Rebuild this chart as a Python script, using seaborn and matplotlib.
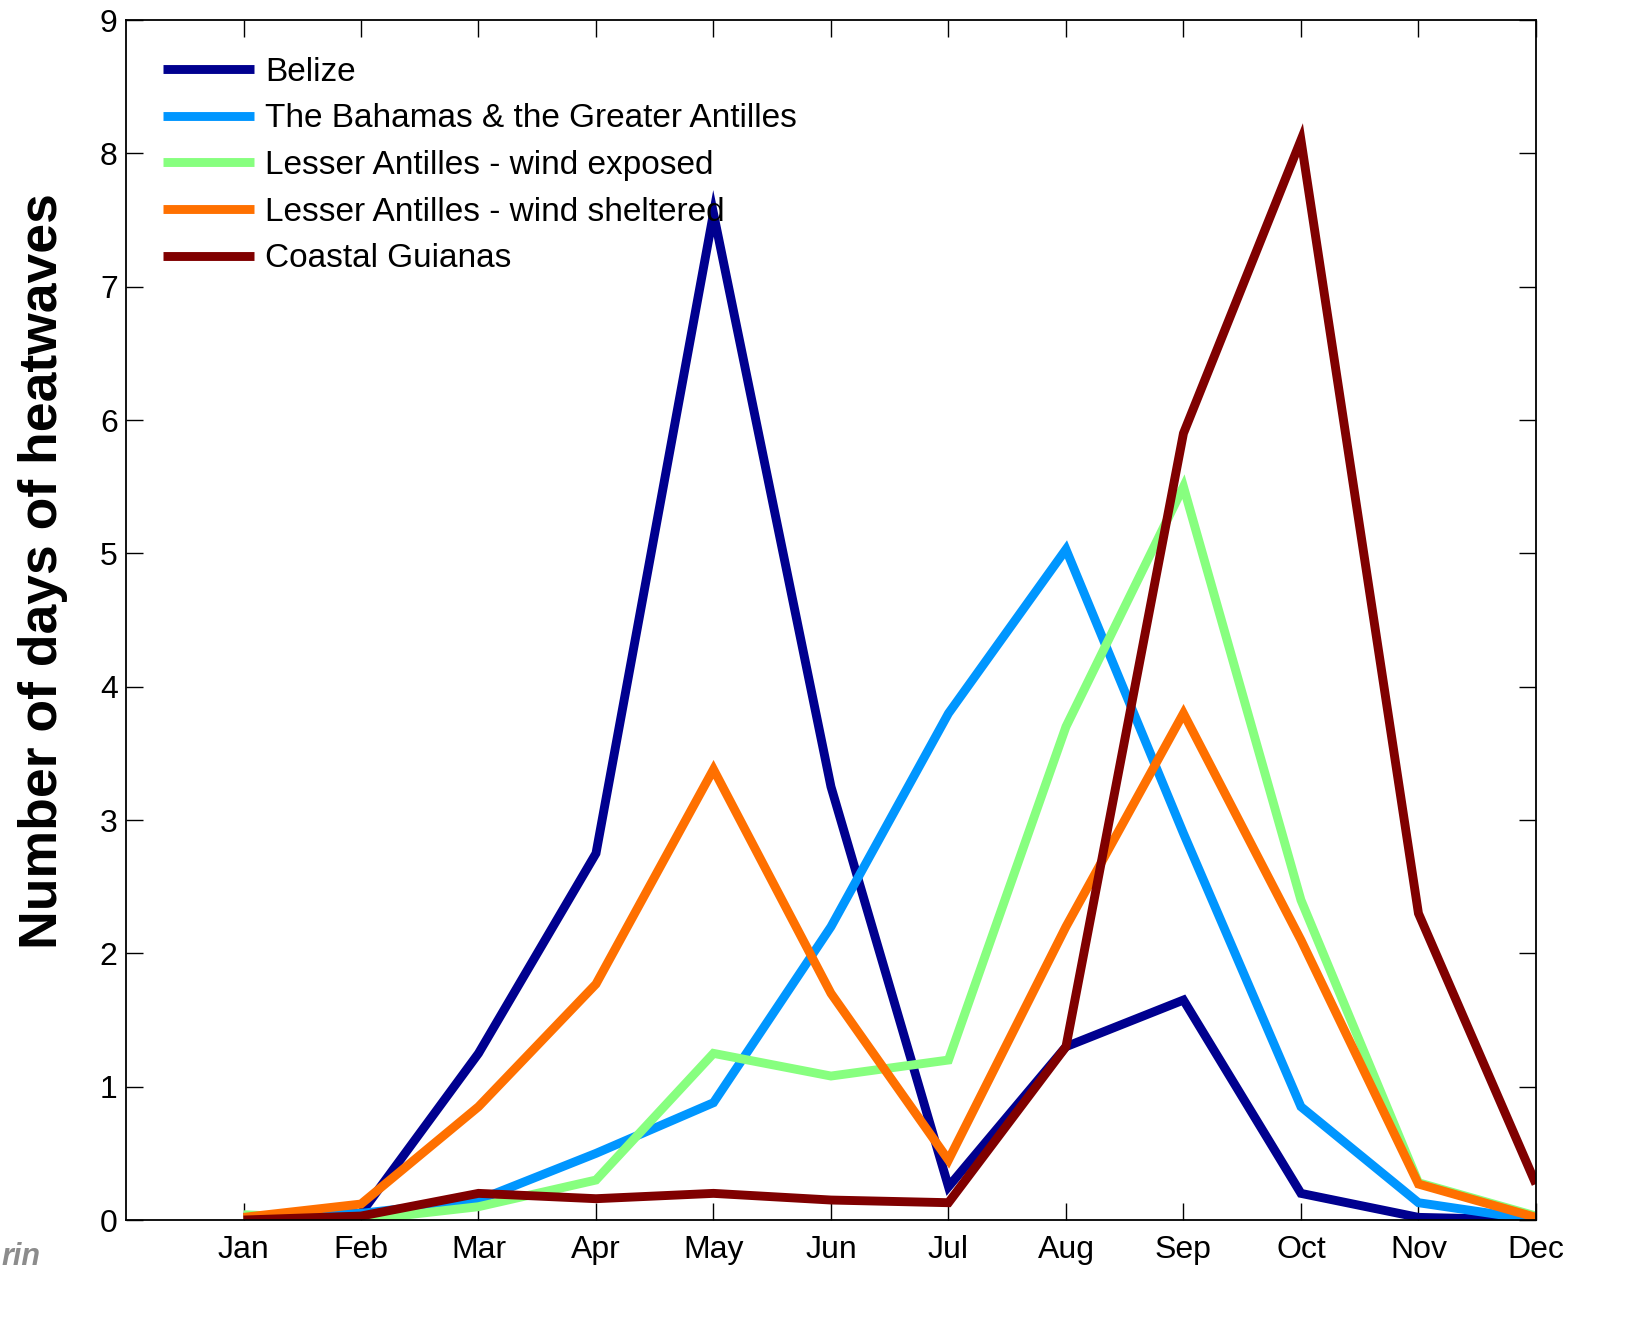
import pandas as pd
import matplotlib
matplotlib.use("Agg")
import matplotlib.pyplot as plt
import seaborn as sns

# Monthly values
months = ["Jan", "Feb", "Mar", "Apr", "May", "Jun", "Jul", "Aug", "Sep", "Oct", "Nov", "Dec"]
belize = [0.02, 0.05, 1.25, 2.75, 7.55, 3.25, 0.25, 1.3, 1.65, 0.2, 0.02, 0.0]
bahamas = [0.02, 0.05, 0.15, 0.5, 0.88, 2.2, 3.8, 5.03, 2.9, 0.85, 0.13, 0.0]
lesser_exposed = [0.04, 0.0, 0.1, 0.3, 1.25, 1.08, 1.2, 3.7, 5.5, 2.4, 0.28, 0.03]
lesser_sheltered = [0.02, 0.12, 0.85, 1.77, 3.38, 1.7, 0.45, 2.2, 3.8, 2.1, 0.27, 0.02]
guianas = [0.0, 0.03, 0.2, 0.16, 0.2, 0.15, 0.13, 1.3, 5.9, 8.1, 2.3, 0.27]

regions = ["Belize", "The Bahamas & the Greater Antilles", "Lesser Antilles - wind exposed",
           "Lesser Antilles - wind sheltered", "Coastal Guianas"]
colors = ["#00008F", "#0096FF", "#87FF7F", "#FF7000", "#800000"]

series = [belize, bahamas, lesser_exposed, lesser_sheltered, guianas]
rows = []
for name, vals in zip(regions, series):
    for i, v in enumerate(vals):
        rows.append({"month": i + 1, "days": v, "region": name})
df = pd.DataFrame(rows)

sns.set_style("ticks")
plt.rcParams['font.family'] = ['Liberation Sans', 'DejaVu Sans']
plt.rcParams['text.color'] = 'black'

fig = plt.figure(figsize=(16.45, 13.36), dpi=100)
ax = fig.add_axes([0.0766, 0.0868, 0.8571, 0.8982])

sns.lineplot(data=df, x="month", y="days", hue="region", hue_order=regions,
             palette=colors, linewidth=6.4, ax=ax, legend=True)
for ln in ax.get_lines():
    ln.set_solid_capstyle("butt")
    ln.set_solid_joinstyle("miter")

ax.set_xlim(0, 12)
ax.set_ylim(0, 9)
ax.set_xticks(range(1, 13))
ax.set_xticklabels(months)
ax.set_yticks(range(0, 10))
ax.tick_params(direction="in", length=12, width=1, top=True, right=True,
               labelsize=23, colors="black")
ax.tick_params(axis="x", pad=11)
ax.tick_params(axis="y", pad=6)
for sp in ax.spines.values():
    sp.set_visible(True)
    sp.set_linewidth(1.3)
    sp.set_color("black")

ax.set_xlabel("")
ax.set_ylabel("Number of days of heatwaves", fontsize=38.5, fontweight="bold",
              color="black")
ax.yaxis.set_label_coords(-0.041, 0.541)

leg = ax.legend(loc="upper left", bbox_to_anchor=(0.0, 1.0), frameon=False,
                prop={'size': 24}, handlelength=2.75, handletextpad=0.32,
                labelspacing=0.47, borderpad=0.0, borderaxespad=1.1)
for h in leg.get_lines():
    h.set_linewidth(6.4)
    h.set_solid_capstyle("butt")
for t in leg.get_texts():
    t.set_color("black")

fig.text(0.001, 0.053, "rin", color="#8c8c8c", fontsize=22, fontstyle="italic",
         fontweight="bold")

fig.savefig("out.png", dpi=100)
